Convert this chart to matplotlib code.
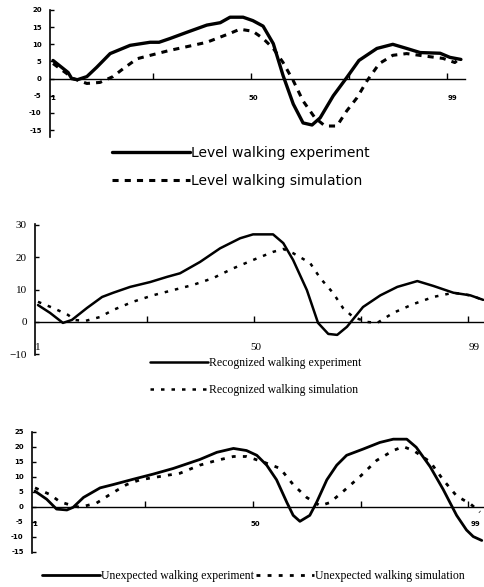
import matplotlib.pyplot as plt
from matplotlib.font_manager import FontProperties

# panel 1 - level walking
lvl_exp_x = [1, 4.7, 5.6, 7, 9.3, 11.7, 15, 19.9, 24.8, 27, 29.7, 33.8, 38.7, 42, 44.4, 47.6, 50,
             52.5, 55, 57.4, 59.9, 62.3, 64.5, 66.5, 69.7, 73, 76, 80.4, 84.3, 87.7, 91, 95.9, 98.3, 101]
lvl_exp_y = [5.3, 1.8, 0, -0.3, 0.6, 3.3, 7.3, 9.7, 10.6, 10.6, 11.7, 13.5, 15.6, 16.3, 17.9, 17.9, 16.9,
             15.3, 10.2, 0.9, -7.4, -12.9, -13.5, -11.4, -5, 0.3, 5.3, 8.8, 10, 8.8, 7.6, 7.4, 6.2, 5.6]
lvl_sim_x = [1, 4.7, 6, 9.3, 12.5, 15.7, 18.2, 21.6, 26.5, 29.5, 35.3, 38.7, 44.4, 46.8, 50, 52.5, 55,
             57.4, 59.9, 62.3, 65.2, 67.7, 70.6, 73, 75.5, 78, 81, 84.3, 87.7, 92.7, 96.6, 99.5, 101]
lvl_sim_y = [4.4, 1.2, 0, -1.4, -1.1, 0.6, 2.9, 5.8, 7.3, 8.2, 9.7, 10.6, 13.2, 14.4, 13.8, 11.7, 8.8,
             4.7, -0.6, -6.5, -11.4, -13.8, -13.8, -9.4, -5.6, -0.6, 4.4, 6.8, 7.3, 6.5, 5.9, 4.7, 6.2]

# panel 2 - recognized walking
rec_exp_x = [1, 3.7, 6.6, 8.6, 12, 15.4, 17.9, 21.7, 26.2, 30, 32.9, 37.4, 41.9, 46.4, 49.3, 53.8, 56.1,
             58.3, 61.4, 63.9, 66.2, 68.2, 70.4, 74, 77.9, 81.7, 86.2, 89.8, 94.3, 98.1, 101]
rec_exp_y = [5.2, 2.8, -0.3, 0.6, 4.3, 7.7, 9, 10.8, 12.3, 13.9, 15, 18.5, 22.7, 25.8, 27, 27, 24.3,
             19.1, 9.8, -0.3, -3.7, -4, -1.5, 4.6, 8.2, 10.8, 12.6, 11.1, 9, 8.2, 6.8]
rec_sim_x = [1, 4.4, 7.7, 9.3, 11.6, 14.9, 17.9, 22.3, 26.8, 31.3, 35.8, 40.3, 44.8, 49.3, 53.8, 56.1,
             58.3, 62.1, 64.4, 67.3, 69.5, 71.8, 74.9, 77.2, 80.8, 85.3, 89.8, 94.3, 98.1, 101]
rec_sim_y = [6.2, 4.3, 2.2, 0.6, 0.3, 1.5, 3.7, 6.2, 8.2, 9.8, 11.4, 13.5, 16.5, 19.1, 21.6, 22.5,
             21.2, 18.2, 13.5, 8.9, 4.3, 1.5, 0, -0.3, 2.8, 5.5, 7.7, 9, 8.2, 6.8]

# panel 3 - unexpected walking
unx_exp_x = [1, 3.6, 5.8, 8.1, 9.5, 11.8, 15.5, 18.4, 22.9, 27.3, 31.8, 37.7, 41.5, 45.2, 48.1, 50.4,
             52.6, 54.8, 57.1, 58.5, 60, 62.2, 63.7, 66, 68.2, 70.4, 74.1, 77.8, 80.8, 83.8, 85.9, 89,
             91.9, 94.9, 97.1, 98.6, 100.5]
unx_exp_y = [5.2, 2.5, -0.8, -1.1, -0.2, 3.1, 6.3, 7.4, 9.2, 10.9, 12.8, 15.8, 18.2, 19.5, 18.8, 17.2,
             13.9, 9, 1.4, -2.9, -4.9, -2.9, 1.4, 9, 13.9, 17.2, 19.3, 21.5, 22.6, 22.6, 19.9, 13.4,
             5.8, -2.9, -7.8, -10, -11.3]
unx_sim_x = [1, 4.3, 6.6, 8.8, 11, 14.7, 17.7, 21.4, 24.4, 28.8, 33.3, 37.7, 41.5, 45.2, 48.1, 51.8,
             55.6, 58.5, 61.5, 64.5, 66.7, 69.7, 73.4, 77.1, 80.8, 83, 85.3, 89, 91.9, 94.9, 98, 100.1]
unx_sim_y = [6.3, 4.1, 1.6, 0.6, -0.2, 1.2, 4.1, 7.4, 9, 10.1, 11.2, 13.9, 15.5, 16.8, 16.8, 15,
             12.8, 7.4, 3.1, 0.3, 1.4, 5.2, 10.1, 15.5, 18.8, 20.1, 18.8, 15, 9, 3.6, 0.9, -1.8]

x_labels = ['1', '50', '99']
x_label_pos = [1, 50, 99]
x_marks = [25.5, 49.5, 73.5, 97.5]

fig = plt.figure(figsize=(4.85, 5.87), dpi=100)


def setup(ax, ylim, yticks, xlim, tickfont, labelpad):
    ax.set_xlim(*xlim)
    ax.set_ylim(*ylim)
    ax.spines['top'].set_visible(False)
    ax.spines['right'].set_visible(False)
    ax.spines['bottom'].set_position(('data', 0))
    ax.spines['left'].set_linewidth(1.2)
    ax.spines['bottom'].set_linewidth(1.0)
    ax.set_yticks(yticks)
    ax.tick_params(axis='y', direction='in', length=3, width=1, pad=6)
    ax.set_xticks(x_label_pos)
    ax.set_xticklabels(x_labels)
    ax.set_xticks(x_marks, minor=True)
    ax.tick_params(axis='x', which='major', length=0, pad=labelpad)
    ax.tick_params(axis='x', which='minor', direction='in', length=4, width=1)
    for lab in ax.get_xticklabels() + ax.get_yticklabels():
        lab.set_fontproperties(tickfont)
    ax.patch.set_alpha(0)


small_bold = FontProperties(family='DejaVu Sans', weight='bold', size=5)
serif_tick = FontProperties(family='Liberation Serif', size=8)
solid = dict(color='black', solid_joinstyle='round', solid_capstyle='round')

# panel 1
ax1 = fig.add_axes([50 / 485, 1 - 137 / 587, 415 / 485, 127 / 587])
ax1.plot(lvl_exp_x, lvl_exp_y, lw=2.4, label='Level walking experiment', **solid)
ax1.plot(lvl_sim_x, lvl_sim_y, color='black', lw=2.2, linestyle=(0, (2.0, 2.0)),
         label='Level walking simulation')
setup(ax1, (-17, 20), [20, 15, 10, 5, 0, -5, -10, -15], (0.26, 102), small_bold, 12)
ax1.set_yticklabels(['20', '15', '10', '5', '0', '-5', '-10', '-15'])
ax1.legend(loc='upper left', bbox_to_anchor=(112 / 485, 1 - 146 / 587), bbox_transform=fig.transFigure,
           frameon=False, borderpad=0, borderaxespad=0, handlelength=5.6, handletextpad=0.1,
           labelspacing=1.0, prop={'family': 'DejaVu Sans', 'size': 10})

# panel 2
ax2 = fig.add_axes([35 / 485, 1 - 355 / 587, 450 / 485, 131 / 587])
ax2.plot(rec_exp_x, rec_exp_y, lw=1.8, label='Recognized walking experiment', **solid)
ax2.plot(rec_sim_x, rec_sim_y, color='black', lw=1.8, linestyle=(0, (1.4, 2.8)),
         label='Recognized walking simulation')
setup(ax2, (-10.2, 30.2), [30, 20, 10, 0, -10], (0.33, 101.4), serif_tick, 15)
ax2.legend(loc='upper left', bbox_to_anchor=(150 / 485, 1 - 357 / 587), bbox_transform=fig.transFigure,
           frameon=False, borderpad=0, borderaxespad=0, handlelength=4.9, handletextpad=0.1,
           labelspacing=1.3, prop={'family': 'Liberation Serif', 'size': 8.5})

# panel 3
ax3 = fig.add_axes([32 / 485, 1 - 553 / 587, 452 / 485, 121 / 587])
ax3.plot(unx_exp_x, unx_exp_y, lw=2.0, label='Unexpected walking experiment', **solid)
ax3.plot(unx_sim_x, unx_sim_y, color='black', lw=2.0, linestyle=(0, (1.4, 2.6)),
         label='Unexpected walking simulation')
setup(ax3, (-15.5, 24), [25, 20, 15, 10, 5, 0, -5, -10, -15], (0.33, 101), small_bold, 10)
ax3.set_yticklabels(['25', '20', '15', '10', '5', '0', '-5', '-10', '-15'])
ax3.legend(loc='upper left', bbox_to_anchor=(42 / 485, 1 - 570 / 587), bbox_transform=fig.transFigure,
           frameon=False, borderpad=0, borderaxespad=0, handlelength=4.9, handletextpad=0.1,
           ncol=2, columnspacing=0.2, prop={'family': 'Liberation Serif', 'size': 8.5})

fig.savefig('out.png', dpi=100)
